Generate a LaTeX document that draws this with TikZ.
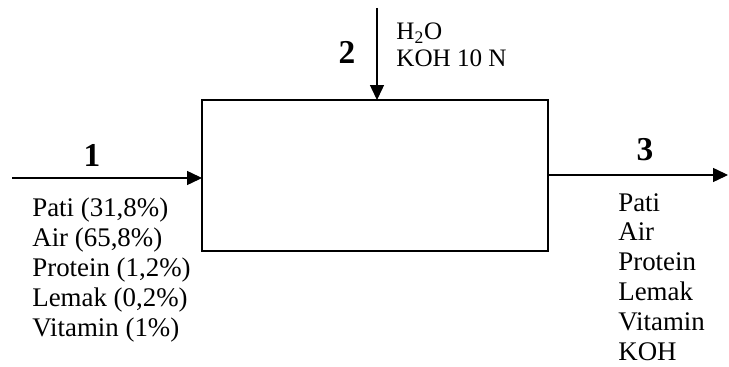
\documentclass[tikz,border=0pt]{standalone}
\usepackage{fontspec}
\setmainfont{Liberation Serif}
\usetikzlibrary{arrows.meta}

\begin{document}
\begin{tikzpicture}[
  >={Triangle[length=8.5pt,width=8pt]},
  proc/.style={draw, line width=0.9pt, minimum width=6.92cm, minimum height=3.02cm,
               inner sep=0pt, outer sep=0pt},
  flow/.style={->, line width=0.6pt},
  num/.style={font=\fontsize{19}{21}\selectfont\bfseries},
  list/.style={align=left, anchor=west, inner sep=0pt,
               font=\fontsize{15.3}{17}\selectfont},
]
  \useasboundingbox (0,0) rectangle (14.58,-7.34);

  % process box
  \node[proc] (proc) at (7.50,-3.51) {};

  % stream 1 (feed, left)
  \coordinate (in1) at (0.24,-3.56);
  \draw[flow] (in1) -- (in1 -| proc.west);
  \node[num] (n1) at (1.84,-3.10) {1};
  \node[list] (s1) at (0.64,-5.40) {Pati (31,8\%)\\Air (65,8\%)\\Protein (1,2\%)\\Lemak (0,2\%)\\Vitamin (1\%)};

  % stream 2 (top)
  \coordinate (in2) at (7.54,-0.16);
  \draw[flow] (in2) -- (in2 |- proc.north);
  \node[num] (n2) at (6.94,-1.04) {2};
  \node[list, font=\fontsize{14.3}{15.5}\selectfont] (s2) at (7.92,-0.90) {H\textsubscript{2}O\\KOH 10 N};

  % stream 3 (product, right)
  \coordinate (out3) at (14.56,-3.50);
  \draw[flow] (proc.east |- out3) -- (out3);
  \node[num] (n3) at (12.90,-3.00) {3};
  \node[list] (s3) at (12.36,-5.54) {Pati\\Air\\Protein\\Lemak\\Vitamin\\KOH};
\end{tikzpicture}
\end{document}
